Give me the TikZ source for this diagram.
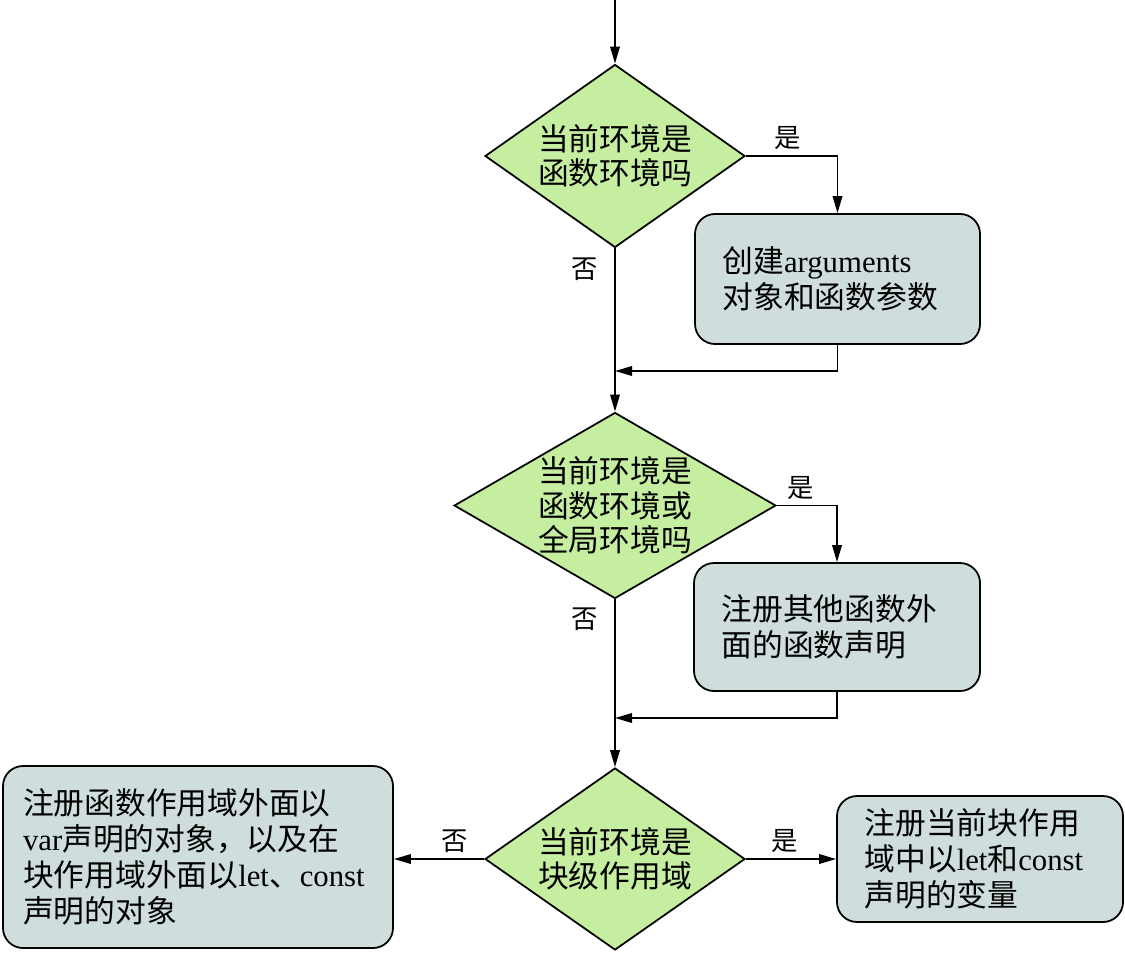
\documentclass[tikz,border=0pt]{standalone}
\usepackage{fontspec}
\setmainfont{Liberation Serif}
\newfontfamily\cjk{Noto Sans CJK SC}
\newcommand{\lat}[1]{{\rmfamily #1}}
\usetikzlibrary{positioning,shapes.geometric,arrows.meta}
\definecolor{decgreen}{RGB}{198,238,160}
\definecolor{stepgray}{RGB}{207,221,221}
\tikzset{every picture/.style={>={Triangle[length=3.4mm,width=1.9mm]}}}
\tikzset{
  decision/.style={diamond, draw, fill=decgreen, line width=1pt, inner sep=0pt,
    align=center, font=\cjk\fontsize{17.5}{19.5}\selectfont},
  stepbox/.style={rectangle, rounded corners=4mm, draw, fill=stepgray, line width=1pt,
    inner xsep=0.55cm, inner ysep=0pt, align=left, font=\cjk\fontsize{17.5}{20.5}\selectfont},
  answer/.style={font=\cjk\fontsize{15}{17}\selectfont, inner sep=3pt}
}

\begin{document}
\begin{tikzpicture}[line width=1pt]

\useasboundingbox (0,0) rectangle (22.5,-19.08);

% ------------------------------------------------------------
% Decisions
% ------------------------------------------------------------

\node[decision, aspect=1.42, minimum width=5.2cm, minimum height=3.66cm] (d1) at (12.3,-3.12)
  {当前环境是\\函数环境吗};
\node[decision, aspect=1.73, minimum width=6.4cm, minimum height=3.7cm] (d2) at (12.3,-10.11)
  {当前环境是\\函数环境或\\全局环境吗};
\node[decision, aspect=1.42, minimum width=5.2cm, minimum height=3.64cm] (d3) at (12.3,-17.18)
  {当前环境是\\块级作用域};

% ------------------------------------------------------------
% Steps
% ------------------------------------------------------------

\node[stepbox, text width=4.6cm, minimum height=2.6cm] (b1) at (16.75,-5.58)
  {创建\lat{arguments}\\对象和函数参数};
\node[stepbox, text width=4.62cm, minimum height=2.56cm] (b2) at (16.74,-12.54)
  {注册其他函数外\\面的函数声明};
\node[stepbox, inner xsep=0.4cm, text width=7.0cm, minimum height=3.64cm] (b3) at (3.96,-17.14)
  {注册函数作用域外面以\\\lat{var}声明的对象，以及在\\块作用域外面以\lat{let}、\lat{const}\\声明的对象};
\node[stepbox, text width=4.62cm, minimum height=2.52cm] (b4) at (19.6,-17.18)
  {注册当前块作用\\域中以\lat{let}和\lat{const}\\声明的变量};

% join points on the main line
\coordinate (top) at (12.3,0);
\coordinate (join1) at (12.3,-7.42);
\coordinate (join2) at (12.3,-14.36);

% ------------------------------------------------------------
% Connectors
% ------------------------------------------------------------

\draw[->] (top) -- (d1.north);
\draw[->] (d1.east) -| node[answer, pos=0.23, above] {是} (b1.north);
\draw[->] (d1.south) -- node[answer, pos=0.13, left=6pt] {否} (d2.north);
\draw[->] (b1.south) |- (join1);

\draw[->] (d2.east) -| node[answer, pos=0.2, above] {是} (b2.north);
\draw[->] (d2.south) -- node[answer, pos=0.12, left=6pt] {否} (d3.north);
\draw[->] (b2.south) |- (join2);

\draw[->] (d3.west) -- node[answer, pos=0.33, above] {否} (d3.west -| b3.east);
\draw[->] (d3.east) -- node[answer, pos=0.43, above] {是} (b4.west);

\end{tikzpicture}
\end{document}
